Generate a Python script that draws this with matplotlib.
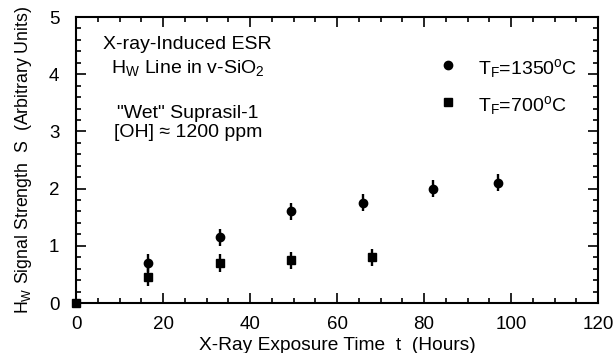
import matplotlib
matplotlib.use("Agg")
import matplotlib.pyplot as plt
from matplotlib.ticker import MultipleLocator

plt.rcParams["font.family"] = ["Liberation Sans", "DejaVu Sans"]
plt.rcParams["mathtext.fontset"] = "custom"
plt.rcParams["mathtext.rm"] = "Liberation Sans"
plt.rcParams["mathtext.it"] = "Liberation Sans"
plt.rcParams["mathtext.default"] = "rm"

# T_F = 1350 C (circles)
t_hi = [16.5, 33, 49.5, 66, 82, 97]
s_hi = [0.70, 1.15, 1.60, 1.75, 2.00, 2.10]
e_hi = [0.15, 0.15, 0.15, 0.15, 0.15, 0.15]

# T_F = 700 C (squares)
t_lo = [0, 16.5, 33, 49.5, 68]
s_lo = [0.0, 0.45, 0.70, 0.75, 0.80]
e_lo = [0.0, 0.16, 0.16, 0.15, 0.15]

fig = plt.figure(figsize=(6.16, 3.53), dpi=100)
ax = fig.add_axes([0.1234, 0.1416, 0.8474, 0.8102])

ax.errorbar(t_hi, s_hi, yerr=e_hi, fmt="o", color="black", ms=6,
            elinewidth=1.7, capsize=0, clip_on=False, zorder=3)
ax.errorbar(t_lo, s_lo, yerr=e_lo, fmt="s", color="black", ms=5.5,
            elinewidth=1.7, capsize=0, clip_on=False, zorder=3)

ax.set_xlim(0, 120)
ax.set_ylim(0, 5)
ax.xaxis.set_major_locator(MultipleLocator(20))
ax.xaxis.set_minor_locator(MultipleLocator(5))
ax.yaxis.set_major_locator(MultipleLocator(1))
ax.yaxis.set_minor_locator(MultipleLocator(0.2))
ax.tick_params(which="both", direction="in", top=True, right=True,
               labelsize=13.5, width=1.2)
ax.tick_params(which="major", length=7)
ax.tick_params(which="minor", length=3.5)
ax.tick_params(axis="x", pad=9)
ax.tick_params(axis="y", pad=12)
for sp in ax.spines.values():
    sp.set_linewidth(1.5)

ax.set_xlabel("X-Ray Exposure Time  t  (Hours)", fontsize=13.8, labelpad=3)
ax.set_ylabel(r"H$_\mathrm{W}$ Signal Strength  S  (Arbitrary Units)",
              fontsize=12.8, labelpad=11)

ax.text(0.214, 0.905, "X-ray-Induced ESR", transform=ax.transAxes,
        ha="center", va="center", fontsize=14)
ax.text(0.214, 0.82, r"H$_\mathrm{W}$ Line in v-SiO$_2$", transform=ax.transAxes,
        ha="center", va="center", fontsize=14)
ax.text(0.214, 0.664, '"Wet" Suprasil-1', transform=ax.transAxes,
        ha="center", va="center", fontsize=14)
ax.text(0.214, 0.597, "[OH] \u2248 1200 ppm", transform=ax.transAxes,
        ha="center", va="center", fontsize=14)

ax.plot([85.5], [4.16], "o", color="black", ms=6)
ax.text(92.5, 4.1, r"T$_\mathrm{F}$=1350$^\mathrm{o}$C", ha="left", va="center",
        fontsize=14)
ax.plot([85.5], [3.52], "s", color="black", ms=5.5)
ax.text(92.5, 3.45, r"T$_\mathrm{F}$=700$^\mathrm{o}$C", ha="left", va="center",
        fontsize=14)

fig.savefig("out.png", dpi=100)
